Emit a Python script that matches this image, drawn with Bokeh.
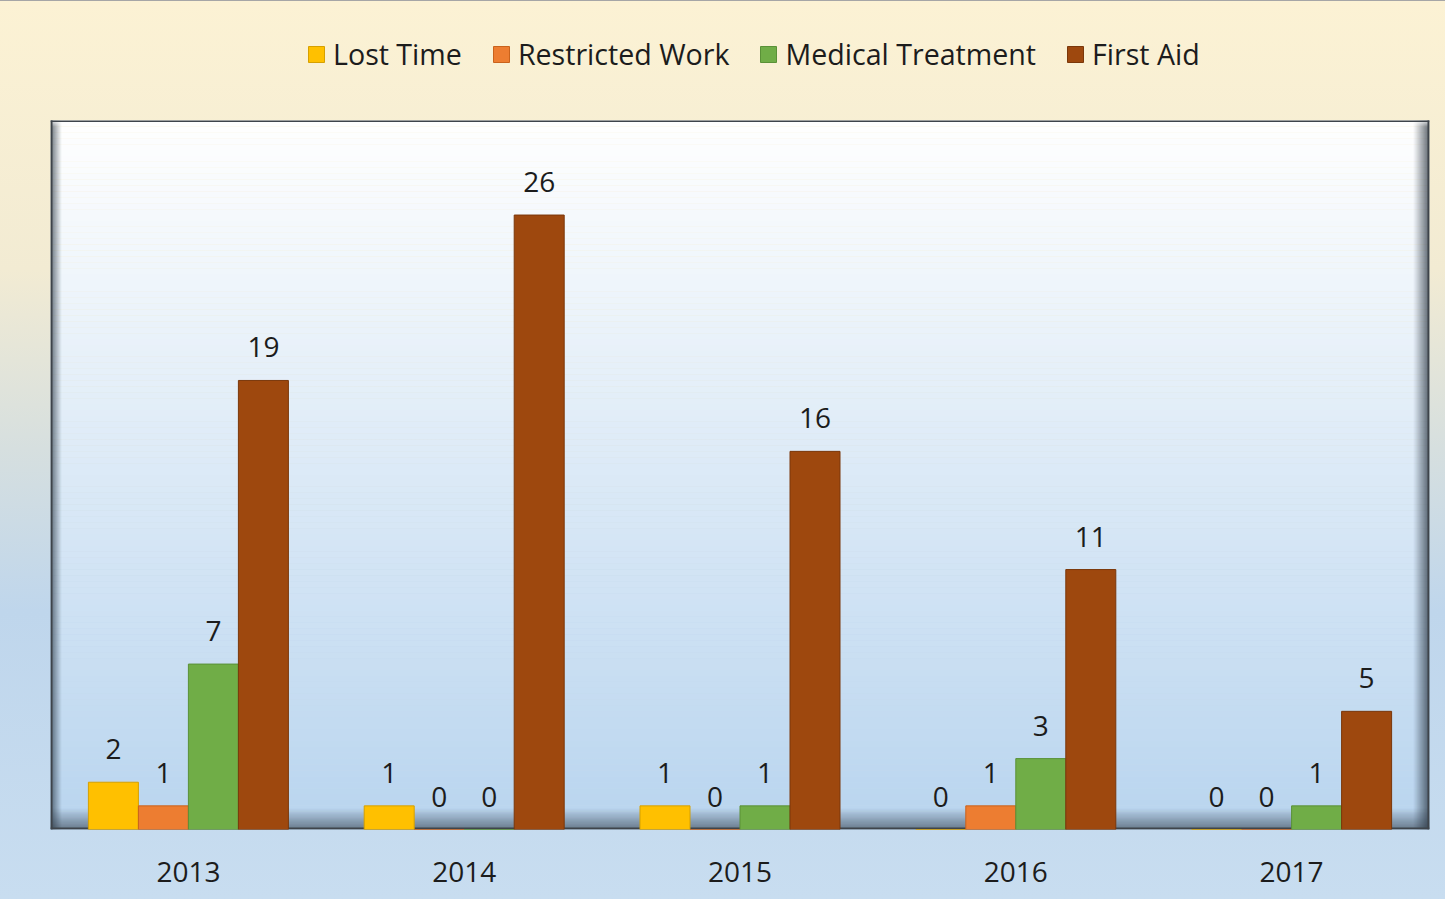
import numpy as np
from bokeh.plotting import figure
from bokeh.models import Range1d, FixedTicker, Legend, LegendItem, ColumnDataSource
from bokeh.core.properties import value
from bokeh.embed import file_html
from bokeh.resources import INLINE

# ---------------- data ----------------
years = ["2013", "2014", "2015", "2016", "2017"]
series = ["Lost Time", "Restricted Work", "Medical Treatment", "First Aid"]
lost_time = [2, 1, 1, 0, 0]
restricted_work = [1, 0, 0, 1, 0]
medical_treatment = [7, 0, 1, 3, 1]
first_aid = [19, 26, 16, 11, 5]

# ---------------- style ----------------
colors = ["#FFC000", "#ED7D31", "#70AD47", "#9E480E"]
edge_colors = ["#D6A000", "#C9621C", "#5A9137", "#7A370A"]
FONT = "Open Sans"
TXT = "#1c1c1c"

W, H = 1445, 899
ML, MR, MB = 50, 16, 70
PT = 120                       # top of the plot box, px from figure top
FW = W - ML - MR
FH = H - MB                    # frame spans from the figure top to the axis
PH = FH - PT                   # height of the plot box
YMAX = 30.0
NG = len(years)
dxp = NG / FW                  # data units per pixel (x)
dyp = YMAX / PH                # data units per pixel (y)
YTOP = YMAX + PT * dyp

p = figure(width=W, height=H, output_backend="svg", toolbar_location=None,
           x_range=Range1d(0, NG), y_range=Range1d(0, YTOP),
           min_border_left=ML, min_border_right=MR, min_border_top=0, min_border_bottom=MB,
           background_fill_color=None, border_fill_color=None, outline_line_color=None,
           styles={"background": "linear-gradient(to bottom, #fcf2d4 0%, #f2ebd3 30%, #d6dfdf 50%, #bfd6ec 68%, #c8ddf0 100%)",
                   "box-shadow": "inset 0 1px 0 #a6a6a6"})
p.grid.visible = False
p.yaxis.visible = False

# inner vertical gradient (white at top -> light blue at bottom)
N = 120
edges = np.linspace(0, YMAX, N + 1)
c0 = np.array([0xb9, 0xd5, 0xef])
c1 = np.array([0xff, 0xff, 0xff])
cols = []
for i in range(N):
    t = (i + 0.5) / N
    c = (c0 * (1 - t) + c1 * t).astype(int)
    cols.append("#%02x%02x%02x" % tuple(c))
p.quad(left=0, right=NG, bottom=edges[:-1], top=edges[1:], fill_color=cols, line_color=None)

# bevel
def strips(n, w, amax, side, color, pw=1.6):
    L, R, B, T, A = [], [], [], [], []
    for i in range(n):
        a = amax * (1 - i / n) ** pw
        if side == "left":
            L.append(i * w); R.append((i + 1) * w); B.append(0); T.append(YMAX)
        elif side == "right":
            L.append(NG - (i + 1) * w); R.append(NG - i * w); B.append(0); T.append(YMAX)
        elif side == "bottom":
            L.append(0); R.append(NG); B.append(i * w); T.append((i + 1) * w)
        else:
            L.append(0); R.append(NG); B.append(YMAX - (i + 1) * w); T.append(YMAX - i * w)
        A.append(a)
    p.quad(left=L, right=R, bottom=B, top=T, fill_color=color, fill_alpha=A, line_color=None)

strips(11, dxp, 0.75, "left", "#1e2a36", 1.2)
strips(16, dxp, 0.85, "right", "#1e2a36", 1.2)
strips(21, dyp, 0.65, "bottom", "#2a3440", 1.1)
strips(7, dyp, 0.9, "top", "#ffffff")

# dark edge of the plot box
BC = "#3e444b"
p.quad(left=[0, NG - 2 * dxp, 0, 0], right=[2 * dxp, NG, NG, NG],
       bottom=[0, 0, YMAX - 1.5 * dyp, 0], top=[YMAX, YMAX, YMAX, 2 * dyp],
       fill_color=BC, line_color=None)

# bars
offsets = [-75 * dxp, -25 * dxp, 25 * dxp, 75 * dxp]
bw = 50 * dxp
data = [lost_time, restricted_work, medical_treatment, first_aid]
items = []
centers = np.arange(NG) + 0.5
for k, (name, vals) in enumerate(zip(series, data)):
    xs = centers + offsets[k]
    src = ColumnDataSource(dict(x=xs, top=vals, lab=[str(v) for v in vals]))
    r = p.vbar(x="x", top="top", bottom=0, width=bw, source=src,
               fill_color=colors[k], line_color=edge_colors[k], line_width=1)
    p.text(x="x", y="top", text="lab", source=src, text_align="center", text_baseline="middle",
           y_offset=-33, text_font=value(FONT), text_font_size="28px", text_color=TXT)
    items.append(LegendItem(label=name, renderers=[r]))

legend = Legend(items=items, orientation="horizontal", location=(256, FH - 73),
                label_text_font=FONT, label_text_font_size="28.6px", label_text_color=TXT,
                glyph_width=20, glyph_height=20, label_standoff=7, spacing=29,
                padding=0, margin=0, background_fill_alpha=0, border_line_alpha=0,
                label_height=20)
p.add_layout(legend)

# x axis
ax = p.xaxis[0]
ax.ticker = FixedTicker(ticks=list(centers))
ax.major_label_overrides = {float(c): y for c, y in zip(centers, years)}
ax.axis_line_color = None
ax.major_tick_line_color = None
ax.minor_tick_line_color = None
ax.major_label_standoff = 26
ax.major_label_text_font = FONT
ax.major_label_text_font_size = "28px"
ax.major_label_text_color = TXT

open("out.html", "w").write(file_html(p, INLINE))
